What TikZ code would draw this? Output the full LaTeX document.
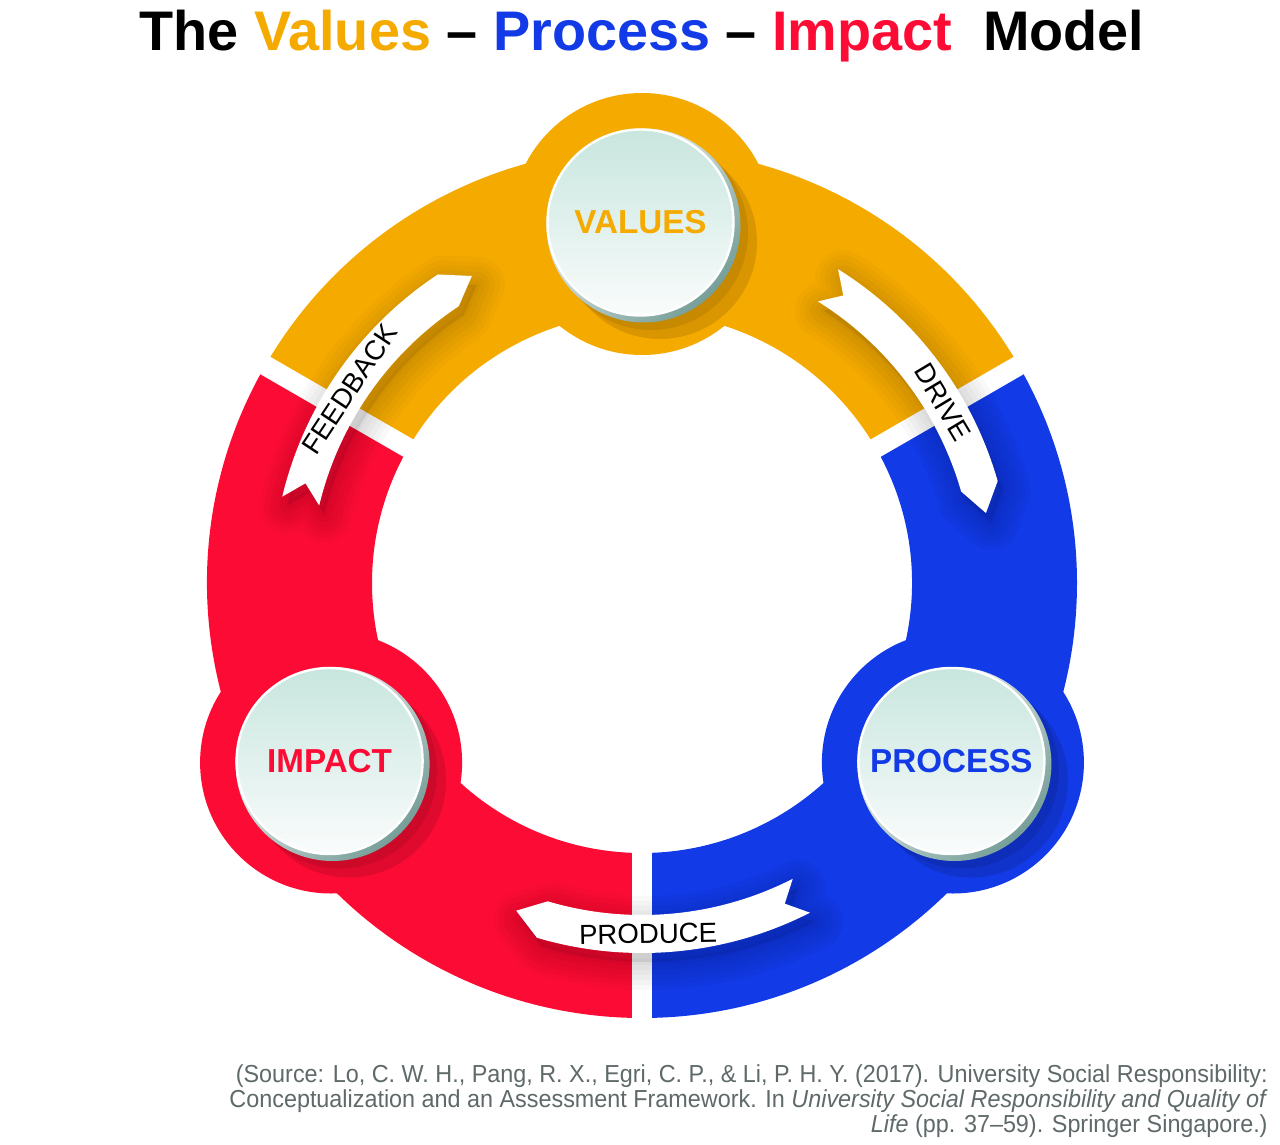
\documentclass[tikz,border=0pt]{standalone}
\usepackage{fontspec}
\setmainfont{Liberation Sans}
\newfontfamily\condfont{Liberation Sans}[FakeStretch=0.95]
\usetikzlibrary{calc}

\definecolor{valorange}{RGB}{245,170,0}
\definecolor{procblue}{RGB}{18,58,230}
\definecolor{impred}{RGB}{252,12,52}
\definecolor{facetop}{RGB}{200,230,222}
\definecolor{facebot}{RGB}{250,252,252}
\definecolor{rimdark}{RGB}{118,158,152}
\definecolor{srcgray}{RGB}{95,105,105}

% ribbon outline: tail angle, head angle, mid radius, half width
\newcommand{\ribbonpath}[4]{(#1:#3+#4) arc[start angle=#1,end angle=#2,radius=#3+#4]
  -- (#2-4.5:#3) -- (#2:#3-#4) arc[start angle=#2,end angle=#1,radius=#3-#4]
  -- (#1-3:#3) -- cycle}

\tikzset{
  gap/.style={draw=white, line width=10pt},
  bubble/.style={circle, minimum size=93pt, inner sep=0pt,
    draw=white, line width=1.2pt,
    top color=facetop, bottom color=facebot,
    font=\fontsize{16.6}{18}\selectfont\bfseries},
  bubble edge/.style={top color=white, bottom color=rimdark, shading angle=45},
  ribbon/.style={fill=white},
  ribbon label/.style={inner sep=0pt, font=\fontsize{13.8}{16}\selectfont},
}

\begin{document}
\begin{tikzpicture}[x=0.5pt,y=0.5pt]
\useasboundingbox (0,0) rectangle (1280,-1145);

\node[anchor=base, font=\fontsize{27.9}{32}\selectfont\bfseries] (title) at (642,-51)
  {The \textcolor{valorange}{Values} – \textcolor{procblue}{Process} – \textcolor{impred}{Impact}\ \ Model};

\begin{scope}[shift={(642,-583)}]
  % ring
  \fill[valorange] (30:435) arc[start angle=30,end angle=150,radius=435]
    -- (150:270) arc[start angle=150,end angle=30,radius=270] -- cycle;
  \fill[impred] (150:435) arc[start angle=150,end angle=270,radius=435]
    -- (270:270) arc[start angle=270,end angle=150,radius=270] -- cycle;
  \fill[procblue] (270:435) arc[start angle=270,end angle=390,radius=435]
    -- (390:270) arc[start angle=390,end angle=270,radius=270] -- cycle;
  \fill[valorange] (90:359) circle[radius=131];
  \fill[impred] (210:359) circle[radius=131];
  \fill[procblue] (330:359) circle[radius=131];
  \foreach \a in {30,150,270}
    \draw[gap] (\a:240) -- (\a:470);

  % ribbons
  \foreach \ta/\tb in {166.5/123.5, 58/16, 297/253.5}{
    \begin{scope}[shift={(5,-9)}]
      \fill[black, opacity=.08] \ribbonpath{\ta}{\tb}{351}{19};
      \foreach \lw in {3,8,...,28}
        \draw[black, opacity=.022, line width=\lw pt, line join=round]
          \ribbonpath{\ta}{\tb}{351}{19};
    \end{scope}
    \fill[ribbon] \ribbonpath{\ta}{\tb}{351}{19};
  }
  \node[ribbon label, rotate=56.5] (feedback) at (146.5:351) {FEEDBACK};
  \node[ribbon label, rotate=-59] (drive) at (31:351) {DRIVE};
  \node[ribbon label, rotate=1] (produce) at (271:351) {PRODUCE};

  % bubbles
  \foreach \a/\c/\n/\t in {90/valorange/values/VALUES,
      330/procblue/process/PROCESS, 210/impred/impact/IMPACT}{
    \coordinate (\n c) at (\a:359);
    \fill[\c!72!black, opacity=.4] ($(\n c)+(18,-18)$) circle[radius=97];
    \fill[\c!72!black, opacity=.45] ($(\n c)+(9,-9)$) circle[radius=97];
    \shade[bubble edge] ($(\n c)+(1.5,-1.5)$) circle[radius=97];
    \node[bubble, text=\c] (\n) at ($(\n c)+(-1.5,1.5)$) {\t};
  }
\end{scope}

\node[anchor=north east, align=right, inner sep=0pt, text=srcgray,
  font=\condfont\fontsize{12.3}{12.5}\selectfont] (source) at (1268,-1064)
  {(Source: Lo, C. W. H., Pang, R. X., Egri, C. P., \& Li, P. H. Y. (2017). University Social Responsibility:\\
   Conceptualization and an Assessment Framework. In \textit{University Social Responsibility and Quality of}\\
   \textit{Life} (pp. 37–59). Springer Singapore.)};
\end{tikzpicture}
\end{document}
